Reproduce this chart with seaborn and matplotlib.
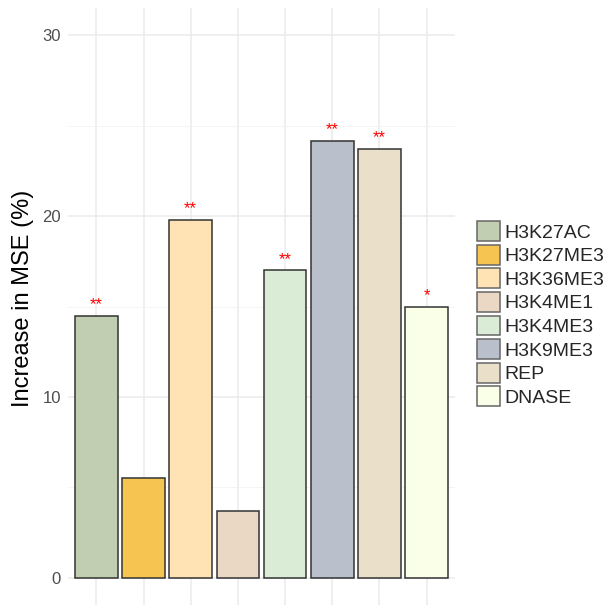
import matplotlib
matplotlib.use("Agg")
import matplotlib.pyplot as plt
import seaborn as sns
import pandas as pd

categories = ["H3K27AC", "H3K27ME3", "H3K36ME3", "H3K4ME1", "H3K4ME3", "H3K9ME3", "REP", "DNASE"]
values = [14.5, 5.5, 19.8, 3.7, 17.0, 24.15, 23.7, 14.97]
stars = ["**", "", "**", "", "**", "**", "**", "*"]
colors = ["#C2CEB1", "#F5C451", "#FFE3B4", "#EAD8C4", "#DAECD6", "#B9C0CB", "#EADFC8", "#FAFFE8"]
yticks = [0, 10, 20, 30]

sns.set_theme(style="white")
plt.rcParams["font.family"] = ["Liberation Sans", "DejaVu Sans"]

df = pd.DataFrame({"cat": categories, "val": values})
df["cat"] = pd.Categorical(df["cat"], categories=categories, ordered=True)

fig = plt.figure(figsize=(6.09, 6.05), dpi=100)
ax = fig.add_axes([68 / 609, 0.0, (455 - 68) / 609, 1 - 8 / 605])

sns.barplot(data=df, x="cat", y="val", hue="cat", palette=colors, dodge=False,
            width=0.9, edgecolor="#333333", linewidth=1.1, ax=ax, legend=True,
            hue_order=categories, order=categories, saturation=1, zorder=3)

for i, (v, s) in enumerate(zip(values, stars)):
    if s:
        ax.text(i, v + 0.2, s, color="#FF0000", ha="center", va="bottom", fontsize=12, zorder=4)

ax.set_xlim(-0.6, len(categories) - 0.4)
ax.set_ylim(-1.5, 31.5)
ax.set_yticks(yticks)
ax.set_yticks([5, 15, 25], minor=True)
ax.set_xticks(range(len(categories)))
ax.set_xticklabels([])
ax.grid(True, which="major", color="#EBEBEB", linewidth=1.1, zorder=0)
ax.grid(True, which="minor", axis="y", color="#F2F2F2", linewidth=0.6, zorder=0)
ax.set_axisbelow(True)
for sp in ax.spines.values():
    sp.set_visible(False)
ax.tick_params(axis="both", length=0, which="both")
ax.tick_params(axis="y", labelsize=12, labelcolor="#4D4D4D", pad=5)
ax.set_xlabel("")
ax.set_ylabel("Increase in MSE (%)", fontsize=17, color="black")
ax.yaxis.set_label_coords(-0.088, 0.514)

handles, labels = ax.get_legend_handles_labels()
lg = ax.get_legend()
if lg is not None:
    lg.remove()
leg = fig.legend(handles, labels, loc="center left", bbox_to_anchor=(477 / 609, 1 - 314 / 605),
                 frameon=False, fontsize=14, handlelength=1.2, handleheight=1.2,
                 labelspacing=0.155, handletextpad=0.2, borderpad=0, borderaxespad=0)
for h in leg.legend_handles:
    h.set_edgecolor("#666666")
    h.set_linewidth(1.1)

fig.savefig("out.png", dpi=100)
